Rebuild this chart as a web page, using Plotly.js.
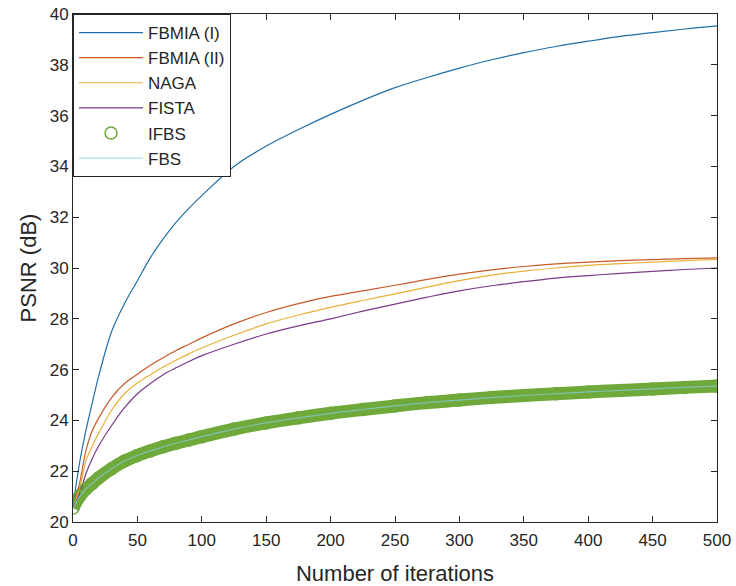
<!DOCTYPE html>
<html>
<head>
<meta charset="utf-8">
<script src="https://cdn.plot.ly/plotly-3.0.1.min.js"></script>
<style>html,body{margin:0;padding:0;background:#fff;}#chart{width:736px;height:586px;}</style>
</head>
<body>
<div id="chart"></div>
<script>
const iterations = [0,5,10,15,20,30,40,50,60,70,80,90,100,125,150,175,200,225,250,275,300,325,350,375,400,425,450,475,500];
const fbmia1 = [20.6,22.3,23.6,24.7,25.75,27.5,28.6,29.5,30.4,31.15,31.8,32.35,32.85,34.0,34.8,35.45,36.05,36.6,37.1,37.5,37.87,38.2,38.48,38.72,38.93,39.12,39.27,39.41,39.53];
const fbmia2 = [20.6,21.5,22.8,23.6,24.1,24.9,25.45,25.82,26.17,26.47,26.75,27.0,27.25,27.8,28.25,28.6,28.88,29.1,29.32,29.55,29.76,29.93,30.06,30.16,30.23,30.29,30.33,30.37,30.4];
const naga = [20.6,21.3,22.4,23.0,23.5,24.4,25.05,25.47,25.8,26.1,26.37,26.62,26.85,27.35,27.8,28.15,28.45,28.72,28.98,29.25,29.5,29.72,29.88,30.0,30.1,30.17,30.23,30.29,30.34];
const fista = [20.6,21.1,21.9,22.5,23.0,23.8,24.5,25.05,25.45,25.8,26.07,26.32,26.55,27.0,27.4,27.72,28.0,28.3,28.58,28.85,29.1,29.3,29.46,29.6,29.7,29.79,29.87,29.94,30.0];
const ifbs = [20.55,21.0,21.3,21.52,21.74,22.1,22.4,22.62,22.8,22.96,23.1,23.23,23.36,23.66,23.9,24.1,24.28,24.43,24.57,24.7,24.8,24.9,24.98,25.05,25.12,25.18,25.24,25.3,25.35];
const fbs = ifbs;
const seriesNames = ['FBMIA (I)','FBMIA (II)','NAGA','FISTA','IFBS','FBS'];
const xTicks = [0,50,100,150,200,250,300,350,400,450,500];
const yTicks = [20,22,24,26,28,30,32,34,36,38,40];

const colors = ['#1f6fa8','#c85a28','#e8b038','#7a3a8a','#6fa93a','#86cde6'];
const lw = 1.2;
function ln(c, w) { return {color: c, width: w, shape: 'spline', smoothing: 1}; }
const traces = [
  {x: iterations, y: ifbs, mode: 'lines', line: ln(colors[4], 13), showlegend: false, hoverinfo: 'skip'},
  {x: iterations, y: fbmia1, mode: 'lines', name: seriesNames[0], line: ln(colors[0], lw)},
  {x: iterations, y: fbmia2, mode: 'lines', name: seriesNames[1], line: ln(colors[1], lw)},
  {x: iterations, y: naga, mode: 'lines', name: seriesNames[2], line: ln(colors[2], lw)},
  {x: iterations, y: fista, mode: 'lines', name: seriesNames[3], line: ln(colors[3], lw)},
  {x: iterations, y: ifbs, mode: 'markers', name: seriesNames[4], marker: {symbol: 'circle-open', size: 12, color: colors[4], line: {width: 1.5, color: colors[4]}}},
  {x: iterations, y: fbs, mode: 'lines', name: seriesNames[5], line: ln('rgba(134,205,230,0.7)', lw)}
];
const axisCommon = {
  showgrid: false, zeroline: false, showline: true, mirror: 'ticks',
  linecolor: '#262626', linewidth: 1, ticks: 'inside', ticklen: 6, tickcolor: '#262626',
  tickfont: {size: 17, color: '#262626'}
};
const layout = {
  width: 736, height: 586,
  margin: {l: 73, r: 19, t: 14, b: 64},
  paper_bgcolor: '#fff', plot_bgcolor: '#fff',
  font: {family: 'Liberation Sans, Arial, sans-serif', color: '#262626'},
  showlegend: true,
  legend: {x: 0, y: 1, xanchor: 'left', yanchor: 'top', bgcolor: '#fff', bordercolor: '#262626', borderwidth: 1,
           font: {size: 17, color: '#262626'}, itemwidth: 64, tracegroupgap: 0},
  xaxis: Object.assign({}, axisCommon, {range: [0, 500], tickvals: xTicks, ticktext: xTicks.map(String), ticklabelstandoff: 3,
    title: {text: 'Number of iterations', font: {size: 22, color: '#262626'}, standoff: 16}}),
  yaxis: Object.assign({}, axisCommon, {range: [20, 40], tickvals: yTicks, ticktext: yTicks.map(String),
    title: {text: 'PSNR (dB)', font: {size: 22, color: '#262626'}, standoff: 6}})
};
Plotly.newPlot('chart', traces, layout, {displayModeBar: false, staticPlot: true});
</script>
</body>
</html>
